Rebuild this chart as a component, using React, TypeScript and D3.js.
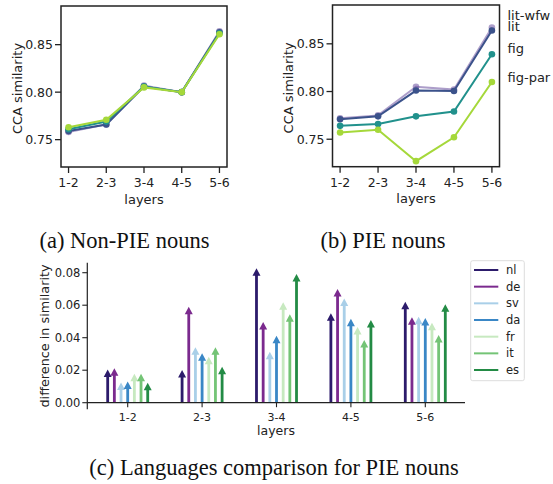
import * as d3 from 'd3';
import React, { useEffect, useRef } from 'react';

const layers = ['1-2', '2-3', '3-4', '4-5', '5-6'];
const seriesNames = ['lit-wfw', 'lit', 'fig', 'fig-par'];
const seriesColors = ['#6a4f9e', '#3b528b', '#21918c', '#a5d83a'];

// (a) Non-PIE nouns
const nonPieLitWfw = [0.758, 0.766, 0.807, 0.8, 0.864];
const nonPieLit = [0.759, 0.766, 0.806, 0.8, 0.863];
const nonPieFig = [0.761, 0.769, 0.806, 0.8, 0.862];
const nonPieFigPar = [0.763, 0.771, 0.805, 0.8, 0.861];

// (b) PIE nouns
const pieLitWfw = [0.772, 0.775, 0.805, 0.802, 0.867];
const pieLit = [0.771, 0.774, 0.801, 0.8005, 0.864];
const pieFig = [0.764, 0.766, 0.774, 0.779, 0.839];
const pieFigPar = [0.757, 0.76, 0.727, 0.752, 0.81];

const yTicksTop = [0.75, 0.8, 0.85];

// (c) languages comparison
const languages = ['nl', 'de', 'sv', 'da', 'fr', 'it', 'es'];
const langColors = ['#2c1b6b', '#7b2a8e', '#a9cfe8', '#3a87c6', '#c7e9c0', '#74c476', '#238b45'];
const diffNl = [0.0205, 0.0201, 0.0827, 0.055, 0.0622];
const diffDe = [0.0212, 0.0591, 0.0497, 0.07, 0.0526];
const diffSv = [0.0125, 0.0341, 0.0314, 0.0642, 0.0529];
const diffDa = [0.0131, 0.0304, 0.0412, 0.0517, 0.0521];
const diffFr = [0.0178, 0.0283, 0.0618, 0.0466, 0.0492];
const diffIt = [0.0178, 0.0341, 0.0544, 0.0386, 0.0417];
const diffEs = [0.0123, 0.0222, 0.0792, 0.0509, 0.0606];
const yTicksBottom = [0, 0.02, 0.04, 0.06, 0.08];

const SANS = 'DejaVu Sans, sans-serif';
const SERIF = 'Liberation Serif, Times New Roman, serif';

const App: React.FC = () => {
  const ref = useRef<HTMLDivElement>(null);

  useEffect(() => {
    const width = 553;
    const height = 484;
    const svg = d3
      .create('svg')
      .attr('width', width)
      .attr('height', height)
      .attr('style', 'position:absolute;left:0;top:0;background:#fff');

    // line panel (a) / (b)
    const linePanel = (left: number, right: number, top: number, bottom: number, series: number[][], labels: boolean) => {
      const g = svg.append('g');
      const x = d3.scaleLinear().domain([-0.2, 4.2]).range([left, right]);
      const y = d3.scaleLinear().domain([0.7212, 0.8907]).range([bottom, top]);

      series.forEach((vals, si) => {
        const op = si === 0 ? 0.55 : 1;
        const line = d3
          .line<number>()
          .x((_, i) => x(i))
          .y(d => y(d));
        g.append('path')
          .attr('d', line(vals))
          .attr('fill', 'none')
          .attr('stroke', seriesColors[si])
          .attr('stroke-width', 2)
          .attr('opacity', op);
        g.selectAll(null)
          .data(vals)
          .join('circle')
          .attr('cx', (_, i) => x(i))
          .attr('cy', d => y(d))
          .attr('r', 3.3)
          .attr('fill', seriesColors[si])
          .attr('opacity', op);
      });

      g.append('rect')
        .attr('x', left)
        .attr('y', top)
        .attr('width', right - left)
        .attr('height', bottom - top)
        .attr('fill', 'none')
        .attr('stroke', '#222')
        .attr('stroke-width', 1.5);

      yTicksTop.forEach(t => {
        g.append('line')
          .attr('x1', left - 6)
          .attr('x2', left)
          .attr('y1', y(t))
          .attr('y2', y(t))
          .attr('stroke', '#222')
          .attr('stroke-width', 1.3);
        g.append('text')
          .attr('x', left - 8)
          .attr('y', y(t))
          .attr('dy', '0.35em')
          .attr('text-anchor', 'end')
          .attr('font-family', SANS)
          .attr('font-size', 12.5)
          .attr('fill', '#222')
          .text(d3.format('.2f')(t));
      });
      layers.forEach((l, i) => {
        g.append('line')
          .attr('x1', x(i))
          .attr('x2', x(i))
          .attr('y1', bottom)
          .attr('y2', bottom + 6)
          .attr('stroke', '#222')
          .attr('stroke-width', 1.3);
        g.append('text')
          .attr('x', x(i))
          .attr('y', bottom + 16)
          .attr('dy', '0.35em')
          .attr('text-anchor', 'middle')
          .attr('font-family', SANS)
          .attr('font-size', 12.5)
          .attr('fill', '#222')
          .text(l);
      });
      g.append('text')
        .attr('x', (left + right) / 2)
        .attr('y', bottom + 32)
        .attr('dy', '0.35em')
        .attr('text-anchor', 'middle')
        .attr('font-family', SANS)
        .attr('font-size', 13)
        .attr('fill', '#222')
        .text('layers');
      g.append('text')
        .attr('transform', `translate(${left - 44},${(top + bottom) / 2 + 2}) rotate(-90)`)
        .attr('dy', '0.35em')
        .attr('text-anchor', 'middle')
        .attr('font-family', SANS)
        .attr('font-size', 13)
        .attr('fill', '#222')
        .text('CCA similarity');

      if (labels) {
        const labelY = [15, 26, 48.5, 77];
        seriesNames.forEach((n, i) => {
          g.append('text')
            .attr('x', right + 8)
            .attr('y', labelY[i])
            .attr('dy', '0.35em')
            .attr('font-family', SANS)
            .attr('font-size', 13)
            .attr('fill', '#222')
            .text(n);
        });
      }
    };

    linePanel(61, 227, 6, 167, [nonPieLitWfw, nonPieLit, nonPieFig, nonPieFigPar], false);
    linePanel(332.5, 499.5, 5, 166.7, [pieLitWfw, pieLit, pieFig, pieFigPar], true);

    const caption = (cx: number, cy: number, txt: string) =>
      svg
        .append('text')
        .attr('x', cx)
        .attr('y', cy)
        .attr('dy', '0.35em')
        .attr('text-anchor', 'middle')
        .attr('font-family', SERIF)
        .attr('font-size', 22.5)
        .attr('fill', '#111')
        .text(txt);
    caption(124.5, 240, '(a) Non-PIE nouns');
    caption(383, 240, '(b) PIE nouns');
    caption(274, 467, '(c) Languages comparison for PIE nouns');

    // panel (c): arrows
    const diffs = [diffNl, diffDe, diffSv, diffDa, diffFr, diffIt, diffEs];
    const cLeft = 87.3;
    const cRight = 465;
    const x = d3.scaleLinear().domain([0, 4]).range([127.7, 425.3]);
    const y = d3.scaleLinear().domain([0, 0.08]).range([402.7, 272.7]);
    const step = 6.67;
    const g = svg.append('g');

    diffs.forEach((vals, li) => {
      vals.forEach((v, gi) => {
        const cx = x(gi) + (li - 3) * step;
        const tip = y(v);
        const headLen = 7.5;
        const headW = 4;
        const shaftW = 1.4;
        const base = y(0);
        const p = d3.path();
        p.moveTo(cx - shaftW, base);
        p.lineTo(cx - shaftW, tip + headLen);
        p.lineTo(cx - headW, tip + headLen);
        p.lineTo(cx, tip);
        p.lineTo(cx + headW, tip + headLen);
        p.lineTo(cx + shaftW, tip + headLen);
        p.lineTo(cx + shaftW, base);
        p.closePath();
        g.append('path').attr('d', p.toString()).attr('fill', langColors[li]);
      });
    });

    g.append('line')
      .attr('x1', cLeft)
      .attr('x2', cRight)
      .attr('y1', y(0))
      .attr('y2', y(0))
      .attr('stroke', '#222')
      .attr('stroke-width', 1.2);
    g.append('line')
      .attr('x1', cLeft)
      .attr('x2', cLeft)
      .attr('y1', 262.7)
      .attr('y2', 409.3)
      .attr('stroke', '#222')
      .attr('stroke-width', 1.2);

    yTicksBottom.forEach(t => {
      g.append('line')
        .attr('x1', cLeft - 5)
        .attr('x2', cLeft)
        .attr('y1', y(t))
        .attr('y2', y(t))
        .attr('stroke', '#222')
        .attr('stroke-width', 1.1);
      g.append('text')
        .attr('x', cLeft - 7)
        .attr('y', y(t))
        .attr('dy', '0.35em')
        .attr('text-anchor', 'end')
        .attr('font-family', SANS)
        .attr('font-size', 11.5)
        .attr('fill', '#222')
        .text(d3.format('.2f')(t));
    });
    layers.forEach((l, i) => {
      g.append('line')
        .attr('x1', x(i))
        .attr('x2', x(i))
        .attr('y1', y(0))
        .attr('y2', y(0) + 4.5)
        .attr('stroke', '#222')
        .attr('stroke-width', 1.1);
      g.append('text')
        .attr('x', x(i))
        .attr('y', 416.7)
        .attr('dy', '0.35em')
        .attr('text-anchor', 'middle')
        .attr('font-family', SANS)
        .attr('font-size', 11)
        .attr('fill', '#222')
        .text(l);
    });
    g.append('text')
      .attr('x', 276)
      .attr('y', 430.5)
      .attr('dy', '0.35em')
      .attr('text-anchor', 'middle')
      .attr('font-family', SANS)
      .attr('font-size', 12.5)
      .attr('fill', '#222')
      .text('layers');
    g.append('text')
      .attr('transform', `translate(45,336) rotate(-90)`)
      .attr('dy', '0.35em')
      .attr('text-anchor', 'middle')
      .attr('font-family', SANS)
      .attr('font-size', 12.8)
      .attr('fill', '#222')
      .text('difference in similarity');

    // legend
    const lg = svg.append('g');
    lg.append('rect')
      .attr('x', 470.7)
      .attr('y', 260.7)
      .attr('width', 53.6)
      .attr('height', 120)
      .attr('rx', 2)
      .attr('fill', '#fff')
      .attr('stroke', '#ddd');
    languages.forEach((n, i) => {
      const ly = 270 + i * 16.67;
      lg.append('line')
        .attr('x1', 474)
        .attr('x2', 498.3)
        .attr('y1', ly)
        .attr('y2', ly)
        .attr('stroke', langColors[i])
        .attr('stroke-width', 2);
      lg.append('text')
        .attr('x', 506)
        .attr('y', ly)
        .attr('dy', '0.35em')
        .attr('font-family', SANS)
        .attr('font-size', 11.5)
        .attr('fill', '#222')
        .text(n);
    });

    d3.select(ref.current).html('');
    d3.select(ref.current).append(() => svg.node());
  }, []);

  return <div ref={ref}></div>;
};

export default App;
